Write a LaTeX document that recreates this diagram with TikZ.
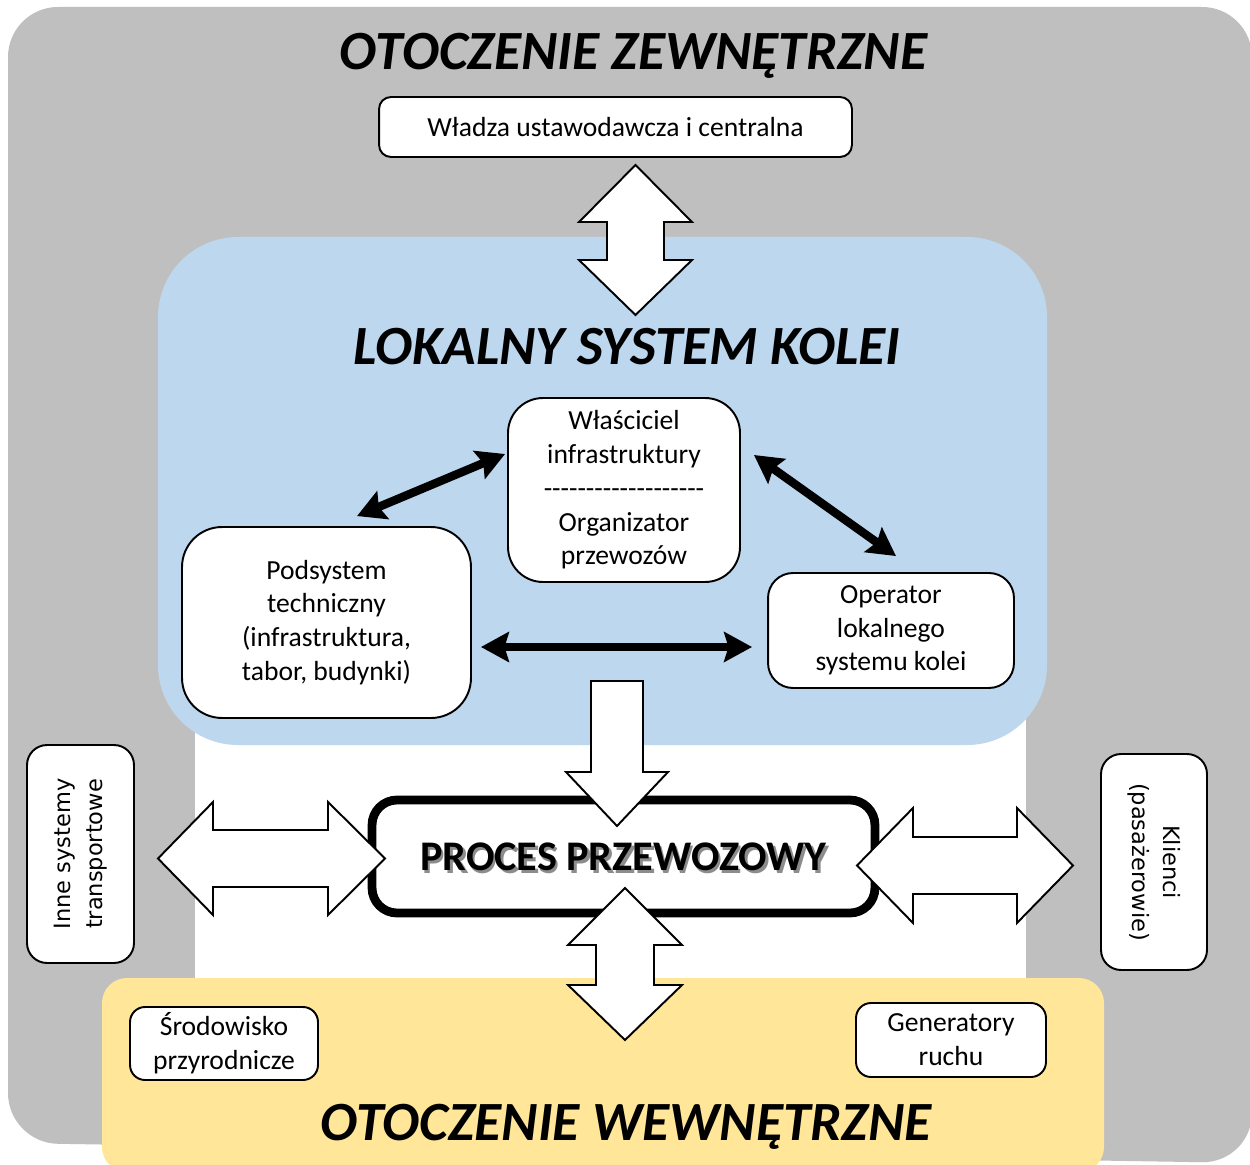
\documentclass[tikz,border=0pt]{standalone}
\usepackage{fontspec}
\setmainfont{Carlito}
\newfontfamily\vertfont{DejaVu Sans}
\newfontfamily\dashfont{Carlito}[Ligatures=TeXOff]
\usetikzlibrary{arrows.meta,calc}

\definecolor{outergray}{HTML}{BFBFBF}
\definecolor{lsblue}{HTML}{BDD7EE}
\definecolor{innyellow}{HTML}{FFE699}

\tikzset{
  box/.style={draw=black, line width=1.1pt, fill=white, rounded corners=#1,
    align=center, inner sep=0pt, font=\fontsize{15.7}{19.2}\selectfont},
  box/.default=0.3cm,
  vbox/.style={box=#1, font=\vertfont\fontsize{12.8}{18}\selectfont},
  title/.style={anchor=base, inner sep=0pt,
    font=\fontsize{31.5}{36}\selectfont\bfseries\itshape},
  conn/.style={line width=4.8pt,
    {Stealth[length=15.9pt, width=17pt, inset=2.5pt]}-{Stealth[length=15.9pt, width=17pt, inset=2.5pt]}},
  blockarrow/.style={draw=black, line width=1.1pt, fill=white, line join=miter}
}

\begin{document}
\begin{tikzpicture}[x=0.02cm, y=-0.02cm]
\useasboundingbox (0,0) rectangle (1250,1165);
\fill[white] (0,0) rectangle (1250,1165);

% regions
\fill[outergray, rounded corners=1cm] (8,7) -- (1252,7) -- (1252,1163) -- (8,1143) -- cycle;
\fill[white] (195,650) rectangle (1026,990);
\fill[lsblue, rounded corners=1.6cm] (158,237) rectangle (1047,745);
\fill[innyellow, rounded corners=0.5cm] (102,978) rectangle (1104,1172);

% region titles
\node[title] (tzew) at (633.5,70) {OTOCZENIE ZEWNĘTRZNE};
\node[title] (tlsk) at (627,365) {LOKALNY SYSTEM KOLEI};
\node[title] (twew) at (626,1140) {OTOCZENIE WEWNĘTRZNE};

% boxes
\node[box=0.24cm, minimum width=9.46cm, minimum height=1.2cm] (wladza) at (615.5,127)
  {Władza ustawodawcza i centralna};
\node[box=0.7cm, minimum width=4.64cm, minimum height=3.68cm] (own) at (624,490)
  {Właściciel\\infrastruktury\\{\dashfont -------------------}\\Organizator\\przewozów};
\node[box=0.8cm, minimum width=5.78cm, minimum height=3.82cm] (pod) at (326.5,622.5)
  {Podsystem\\techniczny\\(infrastruktura,\\tabor, budynki)};
\node[box=0.5cm, minimum width=4.92cm, minimum height=2.3cm] (op) at (891,630.5)
  {Operator\\lokalnego\\systemu kolei};
\node[vbox=0.4cm, rotate=90, minimum width=4.36cm, minimum height=2.14cm] (inne) at (80.5,854)
  {Inne systemy\\transportowe};
\node[vbox=0.4cm, rotate=-90, minimum width=4.32cm, minimum height=2.12cm] (kli) at (1154,862)
  {Klienci\\(pasażerowie)};
\node[box=0.3cm, minimum width=3.76cm, minimum height=1.46cm] (srod) at (224,1043.5)
  {Środowisko\\przyrodnicze};
\node[box=0.3cm, minimum width=3.8cm, minimum height=1.48cm] (gen) at (951,1040)
  {Generatory\\ruchu};

% relations inside the local railway system
\draw[conn] ($(pod.north)+(30.5,-10)$) -- ($(own.west)+(-2,-36)$);
\draw[conn] ($(own.east)+(13,-35)$) -- ($(op.north)+(5,-16)$);
\draw[conn] ($(pod.east)+(9,24.5)$) -- ($(op.west)+(-15,16.5)$);

% transport process
\node[draw=black, line width=5pt, fill=white, rounded corners=0.5cm,
  minimum width=10.06cm, minimum height=2.26cm] (proc) at (623.5,856.5) {};
\node[text=black!45, font=\fontsize{24}{28}\selectfont\bfseries] (procshadow)
  at ($(proc.center)+(2.5,3)$) {PROCES PRZEWOZOWY};
\node[font=\fontsize{24}{28}\selectfont\bfseries] (proctext)
  at (proc.center) {PROCES PRZEWOZOWY};

% block arrows
\draw[blockarrow] (635.5,165) -- (692,222) -- (664,222) -- (664,260) -- (692,260)
  -- (635.5,315) -- (579,260) -- (607,260) -- (607,222) -- (579,222) -- cycle;
\draw[blockarrow] (591,681) -- (643,681) -- (643,772) -- (668,772) -- (617,826)
  -- (566,772) -- (591,772) -- cycle;
\draw[blockarrow] (158,858.5) -- (213,802) -- (213,830) -- (328,830) -- (328,802)
  -- (385,858.5) -- (328,915) -- (328,887) -- (213,887) -- (213,915) -- cycle;
\draw[blockarrow] (857,865.5) -- (913,808) -- (913,837) -- (1017,837) -- (1017,808)
  -- (1073,865.5) -- (1017,923) -- (1017,894) -- (913,894) -- (913,923) -- cycle;
\draw[blockarrow] (625,888) -- (682,945) -- (654,945) -- (654,985) -- (682,985)
  -- (625,1040) -- (568,985) -- (596,985) -- (596,945) -- (568,945) -- cycle;
\end{tikzpicture}
\end{document}
